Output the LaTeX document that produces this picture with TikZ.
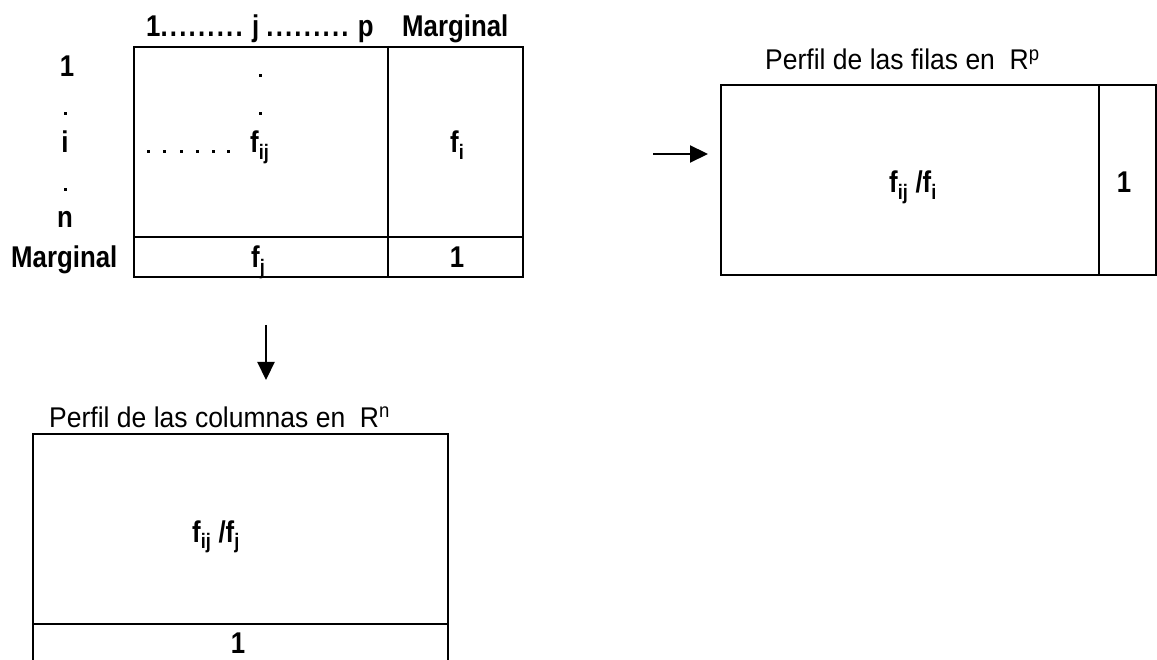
\documentclass[tikz,border=0pt]{standalone}
\usepackage{fontspec}
\setmainfont{Liberation Sans}
\newfontfamily\lblfont[FakeStretch=0.86]{Liberation Sans}
\newfontfamily\ttlfont[FakeStretch=0.93]{Liberation Sans}
\usetikzlibrary{arrows.meta}
\newcommand\dd{.\kern2.2pt\relax}
\begin{document}
\begin{tikzpicture}[x=1pt,y=-1pt,
  box/.style={draw, line width=2pt, rectangle, inner sep=0pt, anchor=north west},
  rule/.style={line width=2pt},
  lbl/.style={font=\lblfont\fontsize{30}{34}\selectfont\bfseries, inner sep=0pt, anchor=base},
  lblw/.style={lbl, anchor=base west},
  ttl/.style={font=\ttlfont\fontsize{28.5}{32}\selectfont, inner sep=0pt, anchor=base west},
  arr/.style={line width=2.2pt, -{Triangle[length=18pt,width=17pt]}},
  dotc/.style={rectangle, fill, inner sep=0pt, minimum size=3pt}]
\useasboundingbox (0,0) rectangle (1157,660);

% ---- main table
\node[box, minimum width=389pt, minimum height=230pt] (main) at (133,46) {};
\coordinate (mv1) at (388,46);
\coordinate (mv2) at (388,276);
\coordinate (mh1) at (133,237);
\coordinate (mh2) at (522,237);
\draw[rule] (mv1) -- (mv2);
\draw[rule] (mh1) -- (mh2);

\node[lblw] (hdr) at (146,37) {1\dd\dd\dd\dd\dd\dd\dd\dd\dd\ j\ \dd\dd\dd\dd\dd\dd\dd\dd\dd\ p};
\node[lblw] (hmarg) at (402,37) {Marginal};
\node[lbl] (r1) at (67,77) {1};
\node[dotc] (rd1) at (65,114) {};
\node[lbl] (ri) at (65,153) {i};
\node[dotc] (rd2) at (65,190) {};
\node[lbl] (rn) at (65,228) {n};
\node[lblw] (rmarg) at (11,268) {Marginal};

\node[dotc] (vd1) at (260,76) {};
\node[dotc] (vd2) at (260,114) {};
\foreach \x [count=\k] in {148,164,181,197,213,228}
  \node[dotc] (hd\k) at (\x,152) {};
\node[lblw] (fij) at (250,153) {f\textsubscript{ij}};
\node[lblw] (fi) at (450,153) {f\textsubscript{i}};
\node[lblw] (fj) at (251,268) {f\textsubscript{j}};
\node[lbl] (one) at (457,268) {1};

% ---- right table
\node[ttl] (tr) at (765,70) {Perfil de las filas en\ \ R\textsuperscript{p}};
\node[box, minimum width=435pt, minimum height=190pt] (rt) at (720,84) {};
\coordinate (rv1) at (1099,84);
\coordinate (rv2) at (1099,274);
\draw[rule] (rv1) -- (rv2);
\node[lbl] (rq) at (913,193) {f\textsubscript{ij} /f\textsubscript{i}};
\node[lbl] (rone) at (1124,193) {1};

% ---- arrows
\coordinate (a1) at (653,154);
\coordinate (a2) at (708,154);
\draw[arr] (a1) -- (a2);
\coordinate (b1) at (266,325);
\coordinate (b2) at (266,380);
\draw[arr] (b1) -- (b2);

% ---- bottom table
\node[ttl] (tb) at (49,427) {Perfil de las columnas en\ \ R\textsuperscript{n}};
\coordinate (bl0) at (33,665);
\coordinate (bl1) at (33,434);
\coordinate (br1) at (448,434);
\coordinate (br0) at (448,665);
\draw[rule] (bl0) -- (bl1) -- (br1) -- (br0);
\coordinate (bh1) at (33,624);
\coordinate (bh2) at (448,624);
\draw[rule] (bh1) -- (bh2);
\node[lbl] (bq) at (216,542) {f\textsubscript{ij} /f\textsubscript{j}};
\node[lbl] (bone) at (238,653) {1};
\end{tikzpicture}
\end{document}
